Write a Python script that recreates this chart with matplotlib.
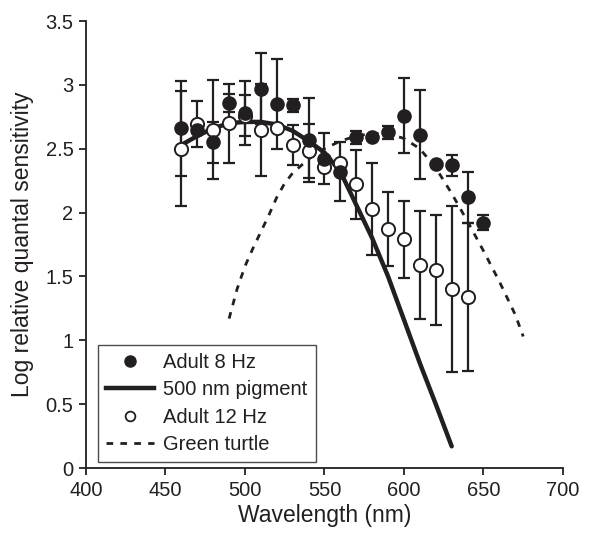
import matplotlib
matplotlib.use("Agg")
import matplotlib.pyplot as plt
from matplotlib.lines import Line2D

plt.rcParams['font.family'] = ['Liberation Sans', 'DejaVu Sans']

# Adult 8 Hz (filled)
wl_8 = [460, 470, 480, 490, 500, 510, 520, 530, 540, 550, 560, 570, 580, 590, 600, 610, 620, 630, 640, 650]
val_8 = [2.66, 2.65, 2.55, 2.86, 2.78, 2.97, 2.85, 2.84, 2.57, 2.42, 2.32, 2.59, 2.59, 2.63, 2.76, 2.61, 2.38, 2.37, 2.12, 1.92]
err_8 = [0.37, 0.00, 0.16, 0.07, 0.25, 0.28, 0.35, 0.05, 0.33, 0.20, 0.23, 0.05, 0.00, 0.05, 0.29, 0.35, 0.00, 0.08, 0.20, 0.06]

# Adult 12 Hz (open)
wl_12 = [460, 470, 480, 490, 500, 510, 520, 530, 540, 550, 560, 570, 580, 590, 600, 610, 620, 630, 640]
val_12 = [2.50, 2.69, 2.65, 2.70, 2.76, 2.65, 2.66, 2.53, 2.48, 2.36, 2.39, 2.22, 2.03, 1.87, 1.79, 1.59, 1.55, 1.40, 1.34]
err_12 = [0.45, 0.18, 0.39, 0.31, 0.16, 0.36, 0.00, 0.155, 0.21, 0.00, 0.00, 0.27, 0.36, 0.29, 0.30, 0.42, 0.43, 0.65, 0.58]

# 500 nm pigment template
wl_pig = [460, 470, 480, 490, 500, 510, 520, 530, 540, 550, 560, 570, 580, 590, 600, 610, 620, 630]
val_pig = [2.53, 2.60, 2.66, 2.70, 2.71, 2.71, 2.69, 2.64, 2.56, 2.47, 2.32, 2.06, 1.80, 1.50, 1.16, 0.82, 0.50, 0.17]

# Green turtle
wl_gt = [490, 495, 500, 505, 510, 515, 520, 525, 530, 540, 550, 560, 570, 580, 590, 600, 610, 620, 630, 640, 650, 660, 670, 675]
val_gt = [1.17, 1.40, 1.58, 1.72, 1.85, 1.98, 2.12, 2.23, 2.31, 2.42, 2.50, 2.56, 2.60, 2.62, 2.62, 2.58, 2.50, 2.35, 2.15, 1.93, 1.70, 1.46, 1.20, 1.03]

x_ticks = [400, 450, 500, 550, 600, 650, 700]
y_ticks = [0, 0.5, 1, 1.5, 2, 2.5, 3, 3.5]
y_ticklabels = ['0', '0.5', '1', '1.5', '2', '2.5', '3', '3.5']

fig = plt.figure(figsize=(5.91, 5.39), dpi=100)
ax = fig.add_axes([0.1455, 0.1317, 0.8071, 0.8293])

ink = '#231f20'

ax.plot(wl_gt, val_gt, color=ink, lw=2.0, linestyle=(0, (2.4, 2.6)), zorder=2)
ax.plot(wl_pig, val_pig, color=ink, lw=3.2, solid_capstyle='round', zorder=3)

ax.errorbar(wl_12, val_12, yerr=err_12, fmt='none', ecolor=ink, elinewidth=1.6,
            capsize=4.5, capthick=1.6, zorder=4)
ax.errorbar(wl_8, val_8, yerr=err_8, fmt='none', ecolor=ink, elinewidth=1.6,
            capsize=4.5, capthick=1.6, zorder=4)
ax.plot(wl_12, val_12, 'o', ms=9.5, mfc='white', mec=ink, mew=1.4, zorder=5)
ax.plot(wl_8, val_8, 'o', ms=9.5, mfc=ink, mec=ink, zorder=6)

ax.set_xlim(400, 700)
ax.set_ylim(0, 3.5)
ax.set_xticks(x_ticks)
ax.set_yticks(y_ticks)
ax.set_yticklabels(y_ticklabels)
ax.tick_params(direction='out', length=5, width=1.3, labelsize=14.5, colors=ink, pad=4)
for s in ['top', 'right']:
    ax.spines[s].set_visible(False)
for s in ['left', 'bottom']:
    ax.spines[s].set_linewidth(1.3)
    ax.spines[s].set_color(ink)

ax.set_xlabel('Wavelength (nm)', fontsize=16.5, color=ink, labelpad=3)
ax.set_ylabel('Log relative quantal sensitivity', fontsize=16.5, color=ink, labelpad=8)

handles = [
    Line2D([], [], marker='o', linestyle='none', ms=8, mfc=ink, mec=ink),
    Line2D([], [], color=ink, lw=3.2),
    Line2D([], [], marker='o', linestyle='none', ms=7, mfc='white', mec=ink, mew=1.3),
    Line2D([], [], color=ink, lw=2.0, linestyle=(0, (2.4, 2.6))),
]
labels = ['Adult 8 Hz', '500 nm pigment', 'Adult 12 Hz', 'Green turtle']
leg = ax.legend(handles, labels, loc='lower left', bbox_to_anchor=(0.025, 0.013),
                borderaxespad=0, fontsize=14.5, frameon=True, fancybox=False,
                handlelength=2.4, handletextpad=0.45, labelspacing=0.42,
                borderpad=0.4)
leg.get_frame().set_edgecolor(ink)
leg.get_frame().set_linewidth(1.0)
for t in leg.get_texts():
    t.set_color(ink)

fig.savefig('out.png', dpi=100)
